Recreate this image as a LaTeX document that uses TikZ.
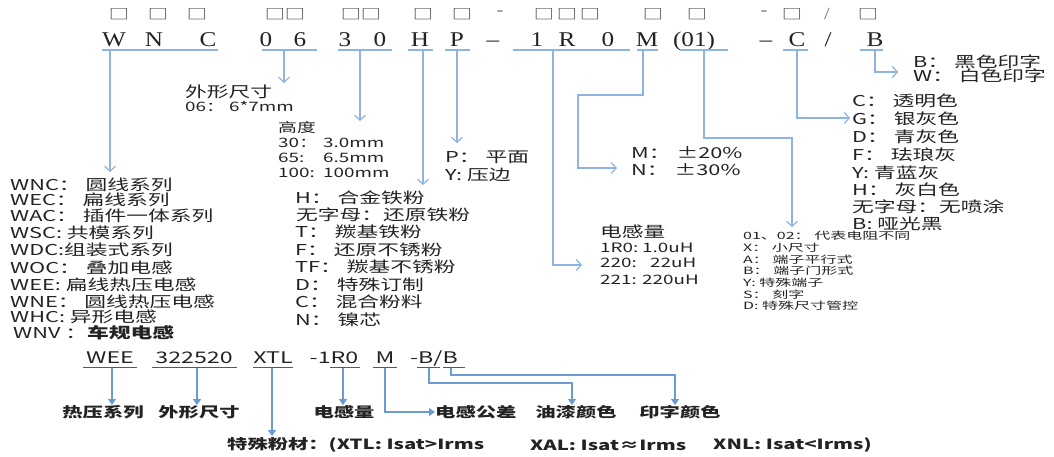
\documentclass[tikz,border=0pt]{standalone}
\usepackage{fontspec}
\usetikzlibrary{arrows.meta}

\newfontfamily\cjk[FakeStretch=1.45]{Noto Sans CJK SC}
\newfontfamily\cjkwide[FakeStretch=1.6]{Noto Sans CJK SC}
\newfontfamily\codefont[FakeStretch=1.2]{Liberation Serif}

\definecolor{lineblue}{RGB}{141,180,226}
\definecolor{arrowblue}{RGB}{108,155,212}
\definecolor{inkgray}{RGB}{35,35,35}

\tikzset{
  code/.style={font=\codefont\fontsize{21}{21}\selectfont, anchor=base, inner sep=0pt, text=inkgray},
  slot/.style={font=\cjk\fontsize{14}{14}\selectfont, inner sep=0pt, text=black!75},
  slotmark/.style={font=\codefont\fontsize{17}{17}\selectfont, inner sep=0pt, text=black!55},
  uline/.style={lineblue, line width=1.2pt},
  conn/.style={lineblue, line width=1.2pt, -{Straight Barb[length=5pt,width=11pt]}},
  item/.style={font=\cjk\fontsize{15}{15}\selectfont, anchor=west, inner sep=0pt, text=inkgray},
  subitem/.style={font=\cjk\fontsize{13}{13}\selectfont, anchor=west, inner sep=0pt, text=inkgray},
  smallitem/.style={font=\cjkwide\fontsize{10}{10}\selectfont, anchor=west, inner sep=0pt, text=inkgray},
  bcode/.style={font=\cjk\fontsize{16}{16}\selectfont, anchor=base, inner sep=0pt, text=inkgray},
  bline/.style={inkgray!75, line width=0.8pt},
  bconn/.style={arrowblue, line width=1.2pt, -{Triangle[length=6pt,width=8pt]}},
  blabel/.style={font=\cjk\bfseries\fontsize{14}{14}\selectfont, inner sep=0pt, text=inkgray},
}

\begin{document}
\begin{tikzpicture}[x=1pt, y=-1pt]

\fill[white] (0,0) rectangle (1054,457);
\useasboundingbox (0,0) rectangle (1054,457);

% ── TOP: slot row ──
\node[slot] (q1) at (119,14) {□};
\node[slot] (q2) at (158,14) {□};
\node[slot] (q3) at (197,14) {□};
\node[slot] (q4) at (275,14) {□};
\node[slot] (q5) at (295,14) {□};
\node[slot] (q6) at (351,14) {□};
\node[slot] (q7) at (371,14) {□};
\node[slot] (q8) at (423,14) {□};
\node[slot] (q9) at (462,14) {□};
\node[slotmark] (qd1) at (500,13) {-};
\node[slot] (q10) at (544,14) {□};
\node[slot] (q11) at (567,14) {□};
\node[slot] (q12) at (590,14) {□};
\node[slot] (q13) at (653,14) {□};
\node[slot] (q14) at (697,14) {□};
\node[slotmark] (qd2) at (764,13) {-};
\node[slot] (q15) at (792,14) {□};
\node[slotmark] (qs) at (827,14) {/};
\node[slot] (q16) at (868,14) {□};

% ── TOP: part number ──
\node[code] (cW) at (114,47) {W};
\node[code] (cN) at (154,47) {N};
\node[code] (cC) at (208,47) {C};
\node[code] (c0a) at (266,47) {0};
\node[code] (c6) at (300,47) {6};
\node[code] (c3) at (345,47) {3};
\node[code] (c0b) at (380,47) {0};
\node[code] (cH) at (420,47) {H};
\node[code] (cP) at (457,47) {P};
\node[code] (cd1) at (493,47) {–};
\node[code] (c1) at (537,47) {1};
\node[code] (cR) at (567,47) {R};
\node[code] (c0c) at (608,47) {0};
\node[code] (cM) at (647,47) {M};
\node[code] (c01) at (694,47) {(01)};
\node[code] (cd2) at (766,47) {–};
\node[code] (cC2) at (797,47) {C};
\node[code] (cs) at (828,47) {/};
\node[code] (cB) at (875,47) {B};

% underlines
\draw[uline] (102,50) -- (218,50);
\draw[uline] (262,50) -- (317,50);
\draw[uline] (338,50) -- (392,50);
\draw[uline] (408,50) -- (433,50);
\draw[uline] (445,50) -- (470,50);
\draw[uline] (513,50) -- (630,50);
\draw[uline] (637,50) -- (658,50);
\draw[uline] (680,50) -- (728,50);
\draw[uline] (783,50) -- (808,50);
\draw[uline] (860,50) -- (883,50);

% connector ends
\coordinate (wnc-s) at (110,51);  \coordinate (wnc-e) at (110,172);
\coordinate (dim-s) at (284,51);  \coordinate (dim-e) at (284,83);
\coordinate (hgt-s) at (360,51);  \coordinate (hgt-e) at (360,121);
\coordinate (pow-s) at (423,51);  \coordinate (pow-e) at (423,185);
\coordinate (top-s) at (457,51);  \coordinate (top-e) at (457,143);
\coordinate (ind-s) at (553,51);  \coordinate (ind-e) at (582,265);
\coordinate (tol-s) at (643,51);  \coordinate (tol-e) at (617,168);
\coordinate (res-s) at (704,51);  \coordinate (res-e) at (792,227);
\coordinate (pnt-s) at (797,51);  \coordinate (pnt-e) at (850,118);
\coordinate (prt-s) at (875,51);  \coordinate (prt-e) at (898,72);

\draw[conn] (wnc-s) -- (wnc-e);
\draw[conn] (dim-s) -- (dim-e);
\draw[conn] (hgt-s) -- (hgt-e);
\draw[conn] (pow-s) -- (pow-e);
\draw[conn] (top-s) -- (top-e);
\draw[conn] (ind-s) |- (ind-e);
\draw[conn] (tol-s) -- (643,95) -- (578,95) |- (tol-e);
\draw[conn] (res-s) |- (792,138) -- (res-e);
\draw[conn] (pnt-s) |- (pnt-e);
\draw[conn] (prt-s) |- (prt-e);

% series
\node[item] (sWNC) at (10,185) {WNC： 圆线系列};
\node[item] (sWEC) at (10,200) {WEC： 扁线系列};
\node[item] (sWAC) at (10,216) {WAC： 插件一体系列};
\node[item] (sWSC) at (10,233) {WSC: 共模系列};
\node[item] (sWDC) at (10,250) {WDC:组装式系列};
\node[item] (sWOC) at (10,268) {WOC： 叠加电感};
\node[item] (sWEE) at (10,285) {WEE: 扁线热压电感};
\node[item] (sWNE) at (10,302) {WNE： 圆线热压电感};
\node[item] (sWHC) at (10,317) {WHC: 异形电感};
\node[item] (sWNV) at (13,333) {WNV ：\textbf{车规电感}};

% size
\node[item] (dimT) at (185,92) {外形尺寸};
\node[subitem] (dim06) at (185,106) {06： 6*7mm};

% height
\node[subitem] (hgtT) at (278,128) {高度};
\node[subitem] (hgt30) at (278,143) {\makebox[45pt][l]{30：}3.0mm};
\node[subitem] (hgt65) at (278,158) {\makebox[45pt][l]{65:}6.5mm};
\node[subitem] (hgt100) at (278,173) {\makebox[45pt][l]{100:}100mm};

% powder
\node[item] (pH) at (295,198) {H： 合金铁粉};
\node[item] (pNone) at (296,215) {无字母：还原铁粉};
\node[item] (pT) at (295,232) {T： 羰基铁粉};
\node[item] (pF) at (295,250) {F： 还原不锈粉};
\node[item] (pTF) at (295,267) {TF： 羰基不锈粉};
\node[item] (pD) at (295,285) {D： 特殊订制};
\node[item] (pC) at (295,302) {C： 混合粉料};
\node[item] (pN) at (295,320) {N： 镍芯};

% top face
\node[item] (tP) at (445,157) {P： 平面};
\node[item] (tY) at (445,175) {Y: 压边};

% tolerance
\node[item] (tolM) at (631,153) {M：\hspace{6pt}±20\%};
\node[item] (tolN) at (631,170) {N：\hspace{6pt}±30\%};

% inductance
\node[item] (indT) at (600,232) {电感量};
\node[subitem] (ind1) at (600,248) {\makebox[42pt][l]{1R0:}1.0uH};
\node[subitem] (ind2) at (600,263) {\makebox[50pt][l]{220:}22uH};
\node[subitem] (ind3) at (600,280) {\makebox[42pt][l]{221:}220uH};

% terminal / resistance
\node[smallitem] (r01) at (743,236) {01、02： 代表电阻不同};
\node[smallitem] (rX) at (743,248) {X： 小尺寸};
\node[smallitem] (rA) at (743,260) {A： 端子平行式};
\node[smallitem] (rB) at (743,271) {B： 端子门形式};
\node[smallitem] (rY) at (743,283) {Y: 特殊端子};
\node[smallitem] (rS) at (743,295) {S： 刻字};
\node[smallitem] (rD) at (743,306) {D: 特殊尺寸管控};

% paint colour
\node[item] (cCl) at (852,101) {C： 透明色};
\node[item] (cG) at (852,119) {G： 银灰色};
\node[item] (cD) at (852,137) {D： 青灰色};
\node[item] (cF) at (852,155) {F： 珐琅灰};
\node[item] (cY) at (852,173) {Y: 青蓝灰};
\node[item] (cHc) at (852,190) {H： 灰白色};
\node[item] (cNone) at (852,207) {无字母：无喷涂};
\node[item] (cBk) at (852,224) {B: 哑光黑};

% print colour
\node[item] (prB) at (913,62) {B： 黑色印字};
\node[item] (prW) at (913,76) {W： 白色印字};

% ── BOTTOM: example ──
\node[bcode] (eWEE) at (110,363) {WEE};
\node[bcode] (eSize) at (194,363) {322520};
\node[bcode] (eXTL) at (273,363) {XTL};
\node[bcode] (eInd) at (334,363) {-1R0};
\node[bcode] (eM) at (385,363) {M};
\node[bcode] (eBB) at (434,363) {-B/B};

\draw[bline] (83,367) -- (137,367);
\draw[bline] (152,367) -- (237,367);
\draw[bline] (253,367) -- (293,367);
\draw[bline] (330,367) -- (360,367);
\draw[bline] (373,367) -- (397,367);
\draw[bline] (417,367) -- (440,367);
\draw[bline] (443,367) -- (465,367);

\node[blabel] (bSeries) at (103,412) {热压系列};
\node[blabel] (bSize) at (199,412) {外形尺寸};
\node[blabel] (bInd) at (344,412) {电感量};
\node[blabel, anchor=west] (bTol) at (435,412) {电感公差};
\node[blabel] (bPaint) at (576,412) {油漆颜色};
\node[blabel] (bPrint) at (680,412) {印字颜色};
\node[blabel, anchor=west] (bPow1) at (227,445) {特殊粉材：(XTL: Isat>Irms};
\node[blabel, anchor=west] (bPow2) at (530,445) {XAL: Isat≈Irms};
\node[blabel, anchor=west] (bPow3) at (713,445) {XNL: Isat<Irms)};

\draw[bconn] (112,368) -- (bSeries.north -| 112,0);
\draw[bconn] (197,368) -- (bSize.north -| 197,0);
\draw[bconn] (272,368) -- (272,436);
\draw[bconn] (343,368) -- (bInd.north -| 343,0);
\draw[bconn] (385,368) |- (bTol.west);
\draw[bconn] (429,368) -- (429,383) -| (bPaint.north -| 572,0);
\draw[bconn] (451,368) -- (451,375) -| (bPrint.north -| 675,0);

\end{tikzpicture}
\end{document}
